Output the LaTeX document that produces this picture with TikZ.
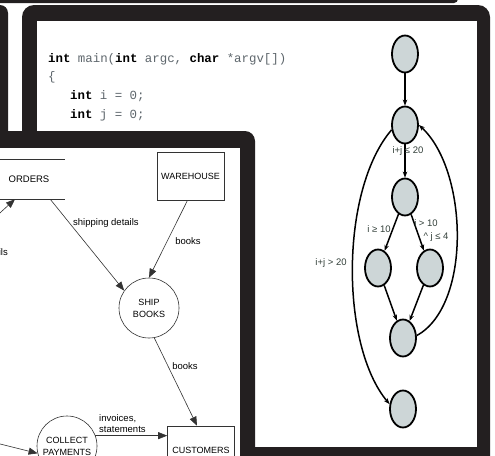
\documentclass[tikz,border=0pt]{standalone}
\usepackage{fontspec}
\setmainfont{Liberation Sans}
\newfontfamily\codefont{Liberation Mono}
\usetikzlibrary{arrows.meta,shapes.geometric}

\definecolor{panelcol}{HTML}{231F20}
\definecolor{blockfill}{HTML}{CDD6D7}
\definecolor{codegray}{HTML}{5E666C}
\definecolor{condgray}{HTML}{33403A}
\definecolor{dfdline}{HTML}{333333}

\newcommand{\kw}[1]{\textbf{\textcolor{black}{#1}}}

\begin{document}
\begin{tikzpicture}[x=1pt,y=-1pt,
  flow/.style={draw=dfdline, line width=0.6pt, -{Triangle[length=9pt,width=7pt]}},
  proc/.style={circle, draw=dfdline, line width=0.6pt, minimum size=60pt, inner sep=0pt, align=center, font=\fontsize{9}{12}\selectfont},
  ext/.style={rectangle, draw=dfdline, line width=0.6pt, minimum width=67pt, minimum height=48pt, font=\fontsize{9}{11}\selectfont},
  lbl/.style={font=\fontsize{9.5}{11}\selectfont, inner sep=0pt},
  blk/.style={ellipse, draw, line width=1.8pt, fill=blockfill, minimum width=26pt, minimum height=37pt, inner sep=0pt},
  cfgarrow/.style={line width=1.5pt, -{Stealth[length=6pt,width=4.5pt]}},
  cond/.style={font=\fontsize{9.5}{10}\selectfont, text=condgray, inner sep=0pt},
  codeline/.style={anchor=base west, inner sep=0pt, font=\codefont\fontsize{12.4}{14}\selectfont, text=codegray}]

\useasboundingbox (0,0) rectangle (495,455);
\fill[white] (0,0) rectangle (495,455);

% panels behind
\fill[panelcol, rounded corners=4pt] (-200,-200) rectangle (458,3);
\fill[panelcol, rounded corners=8pt] (-200,5) rectangle (8,300);

% middle panel: code and its flow graph
\fill[panelcol, rounded corners=12pt] (22,5) rectangle (490,475);
\fill[white] (37,21) rectangle (477,447);

\node[codeline] (sig) at (48,62) {\kw{int} main(\kw{int} argc, \kw{char} *argv[])};
\node[codeline] (obrace) at (48,80) {\{};
\node[codeline] (deci) at (70,99) {\kw{int} i = 0;};
\node[codeline] (decj) at (70,118) {\kw{int} j = 0;};

\node[blk] (b1) at (405,54) {};
\node[blk] (b2) at (405,125) {};
\node[blk] (b3) at (405,197) {};
\node[blk] (b4) at (378,268) {};
\node[blk] (b5) at (430,268) {};
\node[blk] (b6) at (403,338) {};
\node[blk] (b7) at (403,409) {};

\draw[cfgarrow] (b1) -- (b2);
\draw[cfgarrow] (b2) -- (b3);
\draw[cfgarrow] (b3) -- (b4);
\draw[cfgarrow] (b3) -- (b5);
\draw[cfgarrow] (b4) -- (b6);
\draw[cfgarrow] (b5) -- (b6);
\draw[cfgarrow] (b2.200) .. controls (340,190) and (340,345) .. (b7.160);
\draw[cfgarrow] (b6.10) .. controls (472,305) and (468,170) .. (b2.east);

\node[cond] (c23) at (408,151) {i+j ≤ 20};
\node[cond] (c34) at (379,229) {i ≥ 10};
\node[cond] (c35a) at (426,223) {i > 10};
\node[cond] (c35b) at (436,237) {\textasciicircum\ j ≤ 4};
\node[cond] (c27) at (331,263) {i+j > 20};

% front panel: data flow diagram
\fill[panelcol, rounded corners=10pt] (-200,131) rectangle (255,600);
\fill[white] (-200,148) rectangle (240,600);

\node[proc] (ship) at (149,308) {SHIP\\BOOKS};
\node[proc] (collect) at (67,446) {COLLECT\\PAYMENTS};
\node[ext] (warehouse) at (190.5,176) {WAREHOUSE};
\node[ext] (customers) at (201,450) {CUSTOMERS};
\node[lbl, minimum width=72pt, minimum height=40pt] (orders) at (29,179) {ORDERS};
\draw[dfdline, line width=0.6pt] (orders.north west) -- (orders.north east)
  (orders.south west) -- (orders.south east);

\coordinate (ordin) at (-10,222);
\coordinate (payin) at (-20,439);

\draw[flow] (ordin) -- ([xshift=-14pt]orders.south);
\draw[flow] ([xshift=-15pt]orders.south east) -- (ship.145);
\draw[flow] ([xshift=-3pt]warehouse.south) -- (ship.north);
\draw[flow] (ship.-80) -- ([xshift=-4pt]customers.north);
\draw[flow] (collect.20) -- (collect.20 -| customers.west);
\draw[flow] (payin) -- (collect.194);

\node[lbl, anchor=east] (detl) at (8,252) {details};
\node[lbl, anchor=west] (shipdet) at (73,223) {shipping details};
\node[lbl] (whbooks) at (188,241) {books};
\node[lbl] (cubooks) at (185,366) {books};
\node[lbl, anchor=north west, align=left] (invlbl) at (99,414) {invoices,\\statements};
\end{tikzpicture}
\end{document}
